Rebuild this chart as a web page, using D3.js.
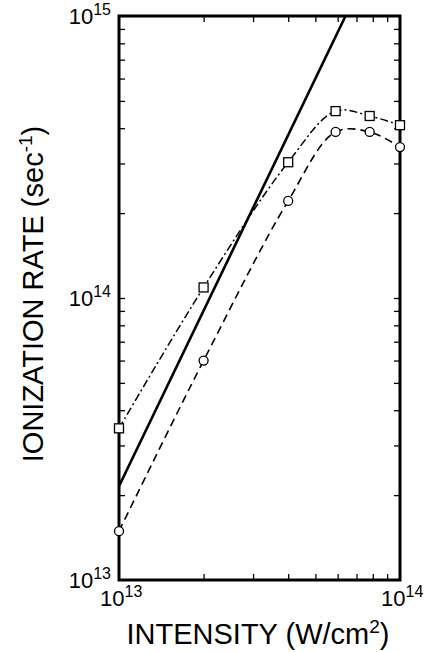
<!DOCTYPE html>
<html>
<head>
<meta charset="utf-8">
<script src="https://cdn.jsdelivr.net/npm/d3@7"></script>
<style>
  body { margin: 0; background: #fff; }
  svg { display: block; font-family: "Liberation Sans", Arial, sans-serif; }
</style>
</head>
<body>
<svg id="chart" width="427" height="652"></svg>
<script>
// Ionization rate vs. intensity, log-log
var intensity    = [1e13, 2e13, 4e13, 5.9e13, 7.8e13, 1e14];
var rateSquares  = [3.45e13, 1.09e14, 3.03e14, 4.6e14, 4.42e14, 4.1e14];
var rateCircles  = [1.49e13, 6.0e13, 2.21e14, 3.88e14, 3.88e14, 3.43e14];
var solidX       = [1e13, 6.4e13];
var solidY       = [2.15e13, 1e15];
var xTickLabels  = [{ v: 1e13, exp: "13" }, { v: 1e14, exp: "14" }];
var yTickLabels  = [{ v: 1e13, exp: "13" }, { v: 1e14, exp: "14" }, { v: 1e15, exp: "15" }];
var xMinorTicks  = [2e13, 3e13, 4e13, 5e13, 6e13, 7e13, 8e13, 9e13];
var yMinorTicks  = [2e13, 3e13, 4e13, 5e13, 6e13, 7e13, 8e13, 9e13, 1e14,
                    2e14, 3e14, 4e14, 5e14, 6e14, 7e14, 8e14, 9e14];

var svg = d3.select("#chart");
// plot box (note: "top" is a reserved window global, so prefixed names)
var boxL = 119, boxR = 400, boxT = 16, boxB = 580;

var x = d3.scaleLog().domain([1e13, 1e14]).range([boxL, boxR]);
var y = d3.scaleLog().domain([1e13, 1e15]).range([boxB, boxT]);

// inward ticks on all four sides
var tick = 6;
svg.append("g").attr("transform", "translate(0," + boxB + ")")
   .call(d3.axisBottom(x).tickValues(xMinorTicks).tickSize(-tick).tickFormat(""));
svg.append("g").attr("transform", "translate(0," + boxT + ")")
   .call(d3.axisTop(x).tickValues(xMinorTicks).tickSize(-tick).tickFormat(""));
svg.append("g").attr("transform", "translate(" + boxL + ",0)")
   .call(d3.axisLeft(y).tickValues(yMinorTicks).tickSize(-tick).tickFormat(""));
svg.append("g").attr("transform", "translate(" + boxR + ",0)")
   .call(d3.axisRight(y).tickValues(yMinorTicks).tickSize(-tick).tickFormat(""));

svg.selectAll(".domain").remove();
svg.selectAll(".tick line").attr("stroke", "#000").attr("stroke-width", 1.3);

// frame
svg.append("rect")
   .attr("x", boxL).attr("y", boxT)
   .attr("width", boxR - boxL).attr("height", boxB - boxT)
   .attr("fill", "none").attr("stroke", "#000").attr("stroke-width", 3);

// clip for the solid line
svg.append("clipPath").attr("id", "plotclip")
   .append("rect").attr("x", boxL).attr("y", boxT)
   .attr("width", boxR - boxL).attr("height", boxB - boxT);

var curve = d3.line()
  .x(function (d) { return x(d[0]); })
  .y(function (d) { return y(d[1]); })
  .curve(d3.curveCatmullRom.alpha(0.5));

var straight = d3.line()
  .x(function (d) { return x(d[0]); })
  .y(function (d) { return y(d[1]); });

var sqData = d3.zip(intensity, rateSquares);
var ciData = d3.zip(intensity, rateCircles);

svg.append("path").datum(d3.zip(solidX, solidY))
   .attr("d", straight).attr("clip-path", "url(#plotclip)")
   .attr("fill", "none").attr("stroke", "#000").attr("stroke-width", 2.6);

svg.append("path").datum(sqData)
   .attr("d", curve)
   .attr("fill", "none").attr("stroke", "#000").attr("stroke-width", 1.5)
   .attr("stroke-dasharray", "8,3,2,3");

svg.append("path").datum(ciData)
   .attr("d", curve)
   .attr("fill", "none").attr("stroke", "#000").attr("stroke-width", 1.6)
   .attr("stroke-dasharray", "8,5");

// markers
svg.selectAll(".sq").data(sqData).enter().append("rect")
   .attr("x", function (d) { return x(d[0]) - 4.5; })
   .attr("y", function (d) { return y(d[1]) - 4.5; })
   .attr("width", 9).attr("height", 9)
   .attr("fill", "#fff").attr("stroke", "#000").attr("stroke-width", 1.3);

svg.selectAll(".ci").data(ciData).enter().append("circle")
   .attr("cx", function (d) { return x(d[0]); })
   .attr("cy", function (d) { return y(d[1]); })
   .attr("r", 4.5)
   .attr("fill", "#fff").attr("stroke", "#000").attr("stroke-width", 1.3);

// tick labels with superscript exponents
function powerLabel(g, exp) {
  g.append("tspan").text("10");
  g.append("tspan").attr("dy", -9).attr("font-size", 16).text(exp);
}

yTickLabels.forEach(function (t) {
  var g = svg.append("text")
     .attr("x", boxL - 8).attr("y", y(t.v) + 8)
     .attr("text-anchor", "end").attr("font-size", 22);
  powerLabel(g, t.exp);
});

xTickLabels.forEach(function (t) {
  var g = svg.append("text")
     .attr("x", x(t.v) - 19).attr("y", boxB + 26)
     .attr("font-size", 22);
  powerLabel(g, t.exp);
});

// axis titles
var xt = svg.append("text")
   .attr("x", 258).attr("y", 644)
   .attr("text-anchor", "middle").attr("font-size", 29);
xt.append("tspan").text("INTENSITY (W/cm");
xt.append("tspan").attr("dy", -11).attr("font-size", 19).text("2");
xt.append("tspan").attr("dy", 11).text(")");

var yt = svg.append("text")
   .attr("transform", "translate(43,294) rotate(-90)")
   .attr("text-anchor", "middle").attr("font-size", 29);
yt.append("tspan").text("IONIZATION RATE (sec");
yt.append("tspan").attr("dy", -11).attr("font-size", 19).text("-1");
yt.append("tspan").attr("dy", 11).text(")");
</script>
</body>
</html>
